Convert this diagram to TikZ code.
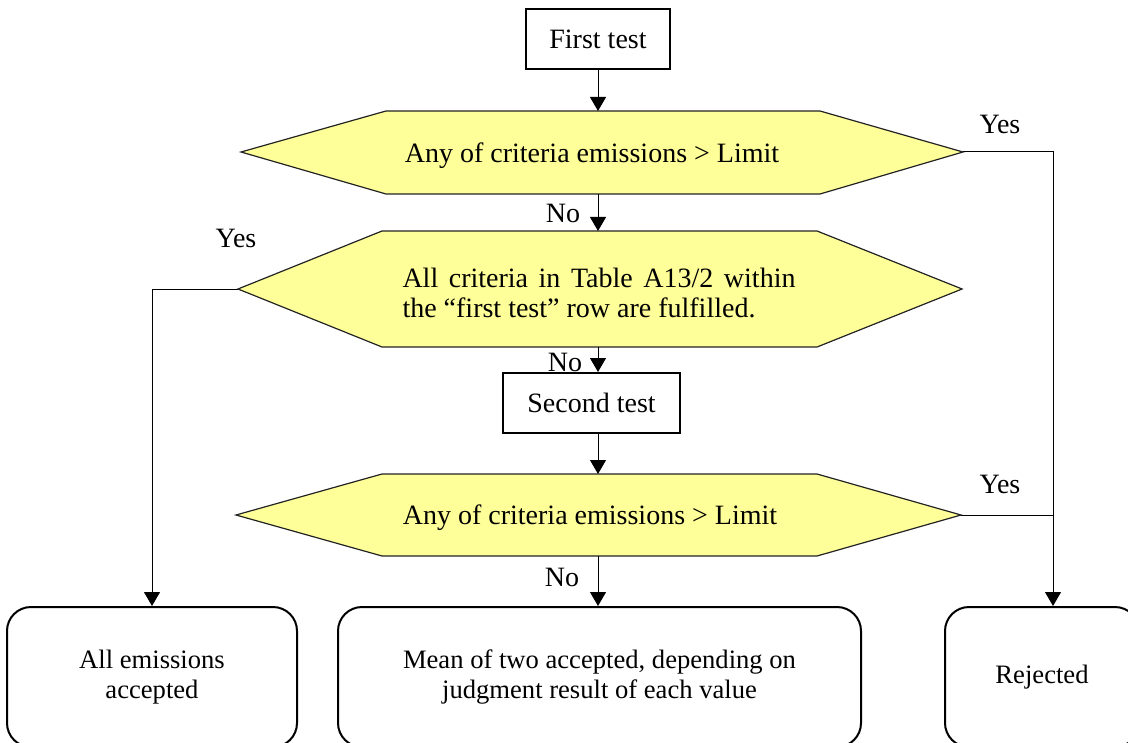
\documentclass[tikz,border=0pt]{standalone}
\usepackage{fontspec}
\setmainfont{Liberation Serif}
\usetikzlibrary{arrows.meta,positioning,calc}
\definecolor{qfill}{RGB}{255,255,153}
\definecolor{qline}{RGB}{35,35,35}
\newcommand{\chartfont}{\fontsize{14}{15}\selectfont}
\newcommand{\outfont}{\fontsize{13.3}{15}\selectfont}
\tikzset{
  flow/.style={-{Triangle[length=7pt,width=8pt]}, black, line width=0.5pt},
  link/.style={black, line width=0.5pt},
  testbox/.style={draw, line width=1pt, minimum width=72pt, minimum height=30pt, font=\chartfont},
  endbox/.style={draw, line width=1pt, rounded corners=12pt, minimum height=70pt,
                 align=center, font=\outfont},
  query/.style={draw=qline, fill=qfill, line width=0.6pt, line join=miter},
  qtext/.style={font=\chartfont, align=center},
  ans/.style={font=\chartfont},
}
\begin{document}
\begin{tikzpicture}[x=0.5pt,y=-0.5pt]
    \useasboundingbox (0,0) rectangle (1128,743);
    \clip (0,0) rectangle (1128,743);
    \node[testbox] (first) at (598,39) {First test};
    % first check
    \coordinate (q1l) at (241,152); \coordinate (q1r) at (963,152);
    \coordinate (q1tl) at (386,111); \coordinate (q1tr) at (820,111);
    \coordinate (q1bl) at (386,194); \coordinate (q1br) at (820,194);
    \draw[query] (q1l) -- (q1tl) -- (q1tr) -- (q1r) -- (q1br) -- (q1bl) -- cycle;
    \node[qtext] (q1) at (592,156) {Any of criteria emissions > Limit};
    % table check
    \coordinate (q2l) at (238,289); \coordinate (q2r) at (962,289);
    \coordinate (q2tl) at (382,231); \coordinate (q2tr) at (817,231);
    \coordinate (q2bl) at (382,347); \coordinate (q2br) at (817,347);
    \draw[query] (q2l) -- (q2tl) -- (q2tr) -- (q2r) -- (q2br) -- (q2bl) -- cycle;
    \node[font=\chartfont, text width=196.5pt, align=justify] (q2) at (599,293)
      {All criteria in Table A13/2 within\linebreak the “first test” row are fulfilled.};
    \node[testbox, minimum width=88.5pt] (second) at (591.5,403) {Second test};
    % second check
    \coordinate (q3l) at (236,515); \coordinate (q3r) at (961,515);
    \coordinate (q3tl) at (382,474); \coordinate (q3tr) at (817,474);
    \coordinate (q3bl) at (382,556); \coordinate (q3br) at (817,556);
    \draw[query] (q3l) -- (q3tl) -- (q3tr) -- (q3r) -- (q3br) -- (q3bl) -- cycle;
    \node[qtext] (q3) at (590,518) {Any of criteria emissions > Limit};
    % outcomes
    \node[endbox, minimum width=145pt] (accept) at (152,677) {All emissions\\accepted};
    \node[endbox, minimum width=261.5pt] (mean) at (599.5,677)
      {Mean of two accepted, depending on\\judgment result of each value};
    \node[endbox, minimum width=97pt] (reject) at (1042,677) {Rejected};
    % answers
    \node[ans] (yes1) at (1000,124) {Yes};
    \node[ans] (yes2) at (236,238) {Yes};
    \node[ans] (yes3) at (1000,484) {Yes};
    \node[ans] (no1) at (563,213) {No};
    \node[ans] (no2) at (565,362) {No};
    \node[ans] (no3) at (562,577) {No};
    % connectors
    \coordinate (rtrunk) at (1053,152);
    \draw[flow] (first) -- (first |- q1tl);
    \draw[flow] (first |- q1bl) -- (first |- q2tl);
    \draw[flow] (first |- q2bl) -- (first |- second.north);
    \draw[flow] (first |- second.south) -- (first |- q3tl);
    \draw[flow] (first |- q3bl) -- (first |- mean.north);
    \draw[flow] (q1r) -- (rtrunk) -- (rtrunk |- reject.north);
    \draw[link] (q3r) -- (rtrunk |- q3r);
    \draw[flow] (q2l) -| (accept.north);
\end{tikzpicture}
\end{document}
